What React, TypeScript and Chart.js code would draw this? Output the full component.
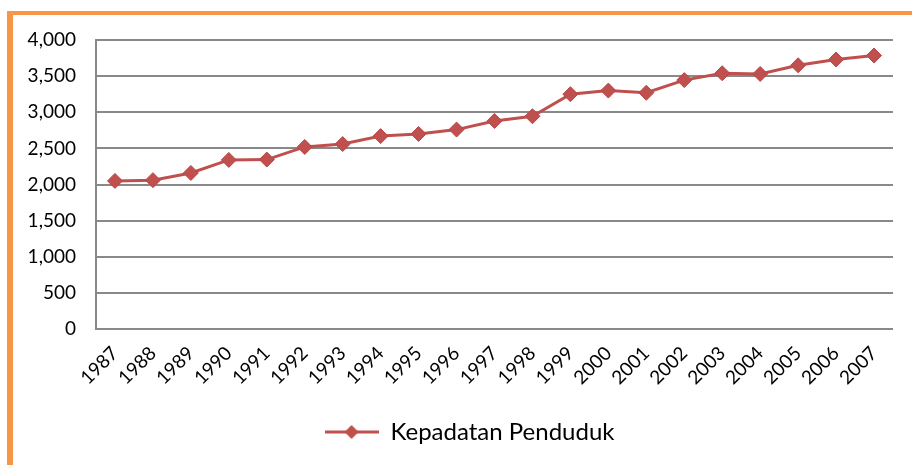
import React, { useEffect, useRef } from "react";
import { Chart, registerables } from "chart.js";

Chart.register(...registerables);

const years: string[] = [
  "1987", "1988", "1989", "1990", "1991", "1992", "1993", "1994", "1995", "1996", "1997",
  "1998", "1999", "2000", "2001", "2002", "2003", "2004", "2005", "2006", "2007",
];
const density: number[] = [
  2050, 2060, 2160, 2340, 2345, 2520, 2560, 2670, 2700, 2760, 2880,
  2945, 3250, 3300, 3270, 3445, 3540, 3530, 3650, 3730, 3785,
];
const seriesLabel = "Kepadatan Penduduk";
const yMin = 0;
const yMax = 4000;
const yStep = 500;

const RED = "#C0504D";
const GRID = "#898989";
const FONT = "Lato";

const legendShift = {
  id: "legendShift",
  afterLayout(chart: any) {
    const lg = chart.legend;
    if (lg) {
      lg.left += 30;
      lg.width = lg.right - lg.left;
    }
  },
};

export default function App() {
  const ref = useRef<HTMLCanvasElement>(null);

  useEffect(() => {
    const icon = document.createElement("canvas");
    icon.width = 54;
    icon.height = 16;
    const g = icon.getContext("2d")!;
    g.strokeStyle = RED;
    g.lineWidth = 3;
    g.beginPath();
    g.moveTo(0, 8);
    g.lineTo(54, 8);
    g.stroke();
    g.fillStyle = RED;
    g.beginPath();
    g.moveTo(27, 1);
    g.lineTo(34, 8);
    g.lineTo(27, 15);
    g.lineTo(20, 8);
    g.closePath();
    g.fill();

    const chart = new Chart(ref.current!, {
      type: "line",
      data: {
        labels: years,
        datasets: [
          {
            label: seriesLabel,
            data: density,
            borderColor: RED,
            backgroundColor: RED,
            borderWidth: 3,
            pointStyle: "rectRot",
            pointRadius: 7.5,
            pointBorderWidth: 1,
            pointBorderColor: "#B8474A",
            pointBackgroundColor: RED,
            tension: 0,
          },
        ],
      },
      plugins: [legendShift],
      options: {
        animation: false,
        responsive: false,
        maintainAspectRatio: false,
        layout: { padding: { left: 16, right: 19, top: 40, bottom: 11 } },
        scales: {
          x: {
            offset: true,
            grid: { display: false, drawTicks: false },
            border: { display: false },
            ticks: {
              minRotation: 45,
              maxRotation: 45,
              padding: 13,
              color: "#000",
              font: { family: FONT, size: 19 },
            },
            afterFit: (s: any) => {
              s.height = 81;
            },
          },
          y: {
            min: yMin,
            max: yMax,
            ticks: {
              stepSize: yStep,
              padding: 20,
              color: "#000",
              font: { family: FONT, size: 19 },
              callback: (v: any) => Number(v).toLocaleString("en-US"),
            },
            grid: { color: GRID, lineWidth: 2, drawTicks: false },
            border: { display: true, color: GRID, width: 2 },
            afterFit: (s: any) => {
              s.width = 80;
            },
          },
        },
        plugins: {
          legend: {
            position: "bottom",
            labels: {
              usePointStyle: true,
              pointStyle: icon as any,
              pointStyleWidth: 54,
              color: "#000",
              font: { family: FONT, size: 24 },
              padding: 10,
            },
          },
          tooltip: { enabled: false },
        },
      },
    });
    return () => chart.destroy();
  }, []);

  return (
    <>
      <div
        style={{
          position: "fixed",
          left: 7,
          top: 11,
          right: 0,
          bottom: 0,
          borderLeft: "6px solid #F79646",
          borderTop: "4px solid #F79646",
        }}
      />
      <canvas
        ref={ref}
        width={912}
        height={465}
        style={{ position: "fixed", left: 0, top: 0, width: 912, height: 465 }}
      />
    </>
  );
}
